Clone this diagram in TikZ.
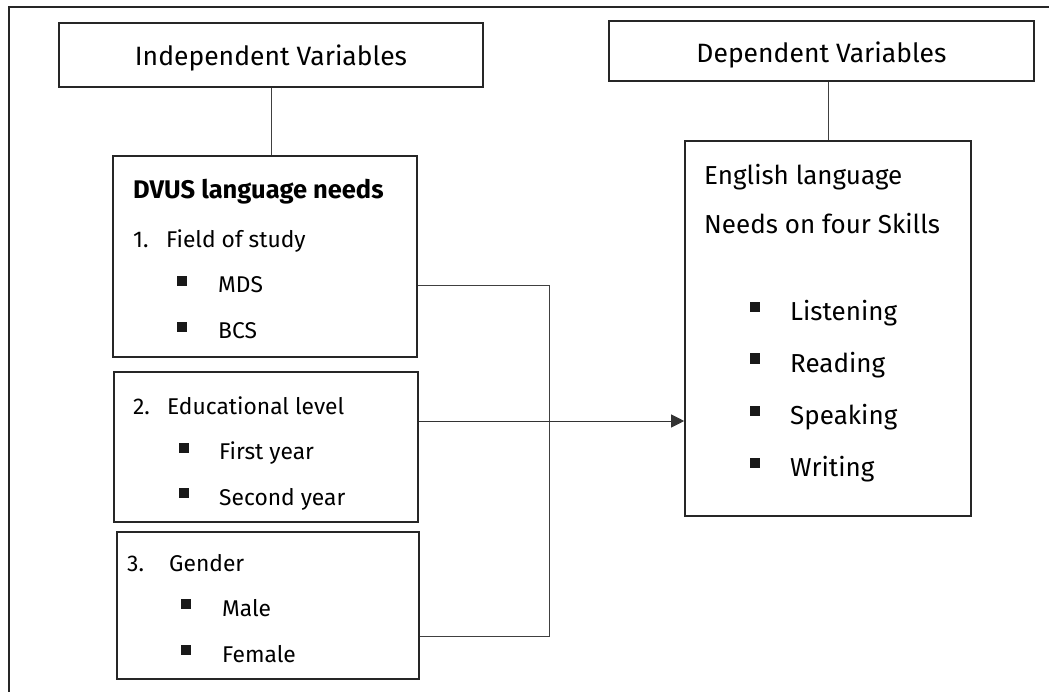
\documentclass[tikz,border=0pt]{standalone}
\usepackage{fontspec}
\setmainfont{Fira Sans}
\usetikzlibrary{arrows.meta, calc}

\begin{document}
\begin{tikzpicture}[
    x=1pt, y=-1pt,
    % Define styles for reusable components
    box/.style={draw=black!85, line width=1.6pt, inner sep=0pt},
    frame/.style={draw=black!85, line width=1.8pt},
    title/.style={anchor=base, inner sep=0pt, text=black, font=\fontsize{26.5}{31}\selectfont},
    item/.style={anchor=base west, inner sep=0pt, text=black, font=\fontsize{22.8}{27}\selectfont},
    skill/.style={anchor=base west, inner sep=0pt, text=black, font=\fontsize{26}{31}\selectfont},
    bullet/.style={fill=black!90, minimum size=10pt, inner sep=0pt},
    link/.style={draw=black!75, line width=1pt},
    arrow/.style={-{Triangle[length=13pt, width=13pt]}, draw=black!80, line width=1pt}
]

    \clip (0,0) rectangle (1049,692);

    % --- OUTER FRAME (runs off the page) ---
    \draw[frame] (9,720) -- (9,7) -- (1080,7);

    % --- TITLE BOXES ---
    \node[box, minimum width=424pt, minimum height=64pt] (indep) at (271,55) {};
    \node[title] (indeptext) at (271,66) {Independent Variables};
    \node[box, minimum width=425pt, minimum height=60pt] (dep) at (821.5,51) {};
    \node[title] (deptext) at (821.5,63) {Dependent Variables};

    % --- DVUS LANGUAGE NEEDS ---
    \node[box, minimum width=304pt, minimum height=201pt] (dvus) at (265,256.5) {};
    \node[item, font=\bfseries\fontsize{25.5}{30}\selectfont] (dvustext) at (133,199) {DVUS language needs};
    \node[item] (num1) at (133,248) {1.};
    \node[item] (field) at (166,248) {Field of study};
    \node[bullet] (b1) at (182,281.5) {};
    \node[item] (mds) at (218,293) {MDS};
    \node[bullet] (b2) at (182,327) {};
    \node[item] (bcs) at (218,339) {BCS};

    % --- EDUCATIONAL LEVEL ---
    \node[box, minimum width=304pt, minimum height=150pt] (edu) at (266,447) {};
    \node[item] (num2) at (133,414) {2.};
    \node[item] (level) at (167,414) {Educational level};
    \node[bullet] (b3) at (184,448) {};
    \node[item] (first) at (219,459) {First year};
    \node[bullet] (b4) at (184,493) {};
    \node[item] (second) at (219,505) {Second year};

    % --- GENDER ---
    \node[box, minimum width=302pt, minimum height=147pt] (gender) at (268,605.5) {};
    \node[item] (num3) at (127,571) {3.};
    \node[item] (gen) at (169,571) {Gender};
    \node[bullet] (b5) at (186,603.5) {};
    \node[item] (male) at (222,616) {Male};
    \node[bullet] (b6) at (186,649.5) {};
    \node[item] (female) at (222,662) {Female};

    % --- FOUR SKILLS ---
    \node[box, minimum width=286pt, minimum height=375pt] (skills) at (828,328.5) {};
    \node[skill] (eng) at (704,185) {English language};
    \node[skill] (needs) at (704,234) {Needs on four Skills};
    \node[bullet] (b7) at (755,307.5) {};
    \node[skill] (listen) at (790,321) {Listening};
    \node[bullet] (b8) at (755,358.5) {};
    \node[skill] (read) at (790,372) {Reading};
    \node[bullet] (b9) at (755,410.5) {};
    \node[skill] (speak) at (790,424) {Speaking};
    \node[bullet] (b10) at (755,463) {};
    \node[skill] (write) at (790,476) {Writing};

    % --- CONNECTORS ---
    \draw[link] (indep.south) -- (indep.south |- dvus.north);
    \draw[link] (skills.north) -- (skills.north |- dep.south);
    \coordinate (jn) at (549,421);
    \draw[link] ([yshift=-29.5pt]dvus.east) -| (jn);
    \draw[link] ([yshift=-30.5pt]gender.east) -| (jn);
    \draw[arrow] ([yshift=26pt]edu.east) -- ([yshift=26pt]edu.east -| skills.west);

\end{tikzpicture}
\end{document}
